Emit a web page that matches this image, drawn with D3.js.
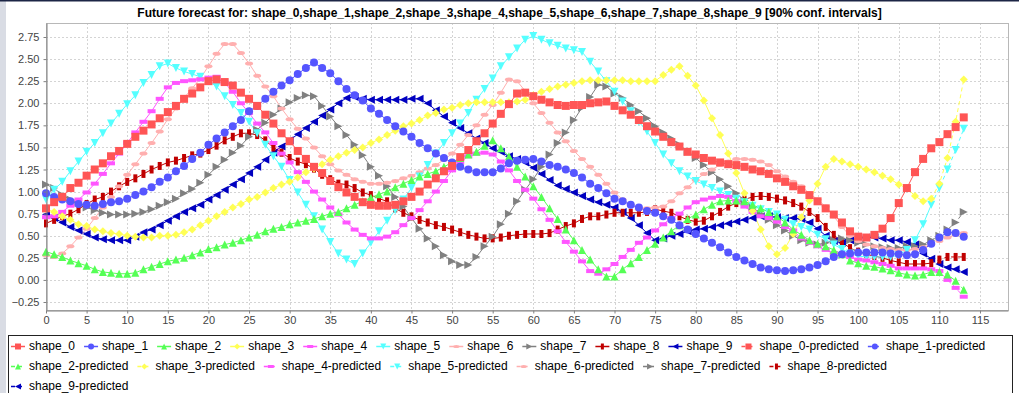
<!DOCTYPE html>
<html>
<head>
<meta charset="utf-8">
<script src="https://cdn.jsdelivr.net/npm/d3@7"></script>
<style>
  body { margin: 0; background: #fff; }
  svg { display: block; font-family: "Liberation Sans", Arial, sans-serif; }
</style>
</head>
<body>
<script>
// values per time step (x = 0 .. 113)
const shape_0 = [0.81,0.88,0.94,1.04,1.10,1.18,1.25,1.32,1.40,1.46,1.54,1.62,1.69,1.76,1.83,1.90,1.97,2.05,2.11,2.18,
  2.25,2.27,2.24,2.20,2.12,2.05,1.97,1.87,1.77,1.66,1.57,1.46,1.37,1.28,1.21,1.12,1.05,0.99,0.94,0.88,
  0.85,0.84,0.84,0.85,0.89,0.94,1.00,1.08,1.15,1.23,1.29,1.39,1.47,1.57,1.66,1.77,1.88,1.99,2.11,2.12,
  2.08,2.04,2.01,1.98,1.97,1.98,1.98,2.00,2.01,2.02,1.97,1.92,1.87,1.81,1.74,1.68,1.62,1.56,1.51,1.45,
  1.42,1.38,1.35,1.33,1.31,1.30,1.28,1.25,1.23,1.20,1.15,1.11,1.06,1.02,0.96,0.89,0.81,0.74,0.65,0.55,
  0.49,0.48,0.51,0.58,0.70,0.87,1.04,1.22,1.37,1.49,1.56,1.65,1.73,1.84];
const shape_1 = [0.98,0.94,0.91,0.89,0.86,0.85,0.84,0.86,0.88,0.89,0.92,0.96,1.00,1.05,1.11,1.16,1.23,1.29,1.37,1.44,
  1.53,1.60,1.67,1.74,1.81,1.91,1.97,2.05,2.13,2.20,2.26,2.33,2.40,2.46,2.40,2.34,2.25,2.16,2.09,2.03,
  1.94,1.88,1.81,1.74,1.68,1.62,1.55,1.49,1.43,1.38,1.33,1.28,1.25,1.22,1.22,1.22,1.26,1.32,1.35,1.36,
  1.37,1.34,1.30,1.28,1.25,1.21,1.16,1.09,1.04,0.98,0.92,0.89,0.85,0.82,0.78,0.76,0.72,0.68,0.62,0.57,
  0.52,0.47,0.42,0.37,0.31,0.26,0.22,0.18,0.14,0.12,0.11,0.10,0.11,0.12,0.14,0.17,0.21,0.26,0.29,0.30,
  0.31,0.31,0.31,0.31,0.30,0.29,0.28,0.29,0.34,0.41,0.48,0.54,0.53,0.49];
const shape_2 = [0.32,0.29,0.26,0.22,0.19,0.16,0.12,0.09,0.08,0.07,0.07,0.08,0.12,0.15,0.18,0.21,0.23,0.25,0.28,0.31,
  0.35,0.37,0.40,0.42,0.45,0.48,0.51,0.55,0.58,0.60,0.63,0.65,0.67,0.69,0.72,0.75,0.77,0.81,0.85,0.89,
  0.93,0.97,1.00,1.05,1.09,1.13,1.17,1.20,1.23,1.28,1.33,1.38,1.42,1.45,1.52,1.58,1.49,1.40,1.28,1.17,
  1.06,0.94,0.81,0.69,0.57,0.45,0.34,0.23,0.12,0.04,0.04,0.12,0.19,0.26,0.34,0.41,0.48,0.55,0.62,0.69,
  0.74,0.80,0.85,0.89,0.90,0.90,0.89,0.85,0.81,0.77,0.72,0.65,0.57,0.51,0.45,0.41,0.38,0.34,0.29,0.22,
  0.19,0.16,0.15,0.13,0.11,0.08,0.06,0.05,0.06,0.09,0.09,0.06,-0.01,-0.11];
const shape_3 = [0.80,0.77,0.72,0.68,0.63,0.61,0.57,0.55,0.53,0.52,0.50,0.49,0.48,0.48,0.50,0.50,0.51,0.54,0.57,0.62,
  0.67,0.72,0.77,0.82,0.86,0.91,0.94,0.99,1.04,1.08,1.11,1.16,1.22,1.26,1.31,1.36,1.40,1.44,1.47,1.50,
  1.55,1.59,1.64,1.69,1.74,1.77,1.81,1.86,1.89,1.93,1.95,1.98,2.00,2.01,2.01,2.01,2.01,2.01,2.02,2.04,
  2.09,2.13,2.16,2.19,2.21,2.23,2.25,2.26,2.26,2.26,2.26,2.26,2.25,2.25,2.25,2.25,2.32,2.38,2.42,2.31,
  2.20,2.03,1.83,1.64,1.43,1.21,0.98,0.78,0.57,0.38,0.29,0.36,0.52,0.71,0.90,1.09,1.28,1.37,1.34,1.31,
  1.28,1.25,1.22,1.18,1.14,1.08,1.04,0.95,0.89,0.92,1.09,1.38,1.79,2.27];
const shape_4 = [0.71,0.72,0.77,0.84,0.91,0.99,1.09,1.20,1.32,1.43,1.55,1.67,1.79,1.91,2.05,2.18,2.23,2.25,2.26,2.27,
  2.29,2.30,2.23,2.13,2.00,1.89,1.77,1.67,1.55,1.43,1.33,1.22,1.11,1.00,0.91,0.82,0.74,0.65,0.57,0.51,
  0.47,0.47,0.49,0.54,0.62,0.70,0.79,0.89,1.00,1.12,1.24,1.33,1.40,1.43,1.44,1.42,1.34,1.24,1.12,1.02,
  0.92,0.80,0.68,0.55,0.43,0.32,0.21,0.10,0.07,0.12,0.18,0.26,0.34,0.42,0.48,0.56,0.63,0.70,0.75,0.82,
  0.88,0.91,0.93,0.95,0.94,0.89,0.83,0.77,0.72,0.70,0.66,0.60,0.56,0.47,0.42,0.38,0.34,0.30,0.29,0.26,
  0.23,0.22,0.20,0.18,0.16,0.13,0.13,0.13,0.13,0.12,0.10,0.00,-0.09,-0.19];
const shape_5 = [0.91,1.02,1.11,1.23,1.34,1.45,1.55,1.66,1.77,1.88,1.99,2.09,2.23,2.32,2.42,2.45,2.40,2.36,2.33,2.30,
  2.25,2.19,2.08,1.98,1.89,1.79,1.66,1.53,1.40,1.28,1.13,0.99,0.85,0.72,0.57,0.43,0.30,0.23,0.18,0.30,
  0.42,0.55,0.67,0.79,0.91,1.04,1.17,1.30,1.43,1.55,1.66,1.77,1.89,2.04,2.16,2.28,2.42,2.52,2.62,2.72,
  2.76,2.72,2.68,2.65,2.62,2.60,2.58,2.47,2.36,2.25,2.13,2.02,1.91,1.79,1.68,1.55,1.42,1.32,1.23,1.17,
  1.12,1.08,1.04,1.00,0.96,0.92,0.88,0.84,0.80,0.77,0.74,0.68,0.63,0.60,0.57,0.51,0.46,0.40,0.35,0.30,
  0.27,0.26,0.26,0.26,0.26,0.28,0.34,0.45,0.63,0.85,1.04,1.25,1.47,1.71];
const shape_6 = [0.28,0.26,0.30,0.38,0.48,0.58,0.70,0.82,0.94,1.06,1.19,1.31,1.43,1.55,1.68,1.82,1.94,2.06,2.17,2.28,
  2.42,2.56,2.67,2.67,2.57,2.45,2.31,2.19,2.08,1.94,1.82,1.71,1.60,1.50,1.40,1.31,1.24,1.19,1.14,1.11,
  1.09,1.09,1.10,1.12,1.15,1.18,1.22,1.26,1.30,1.36,1.43,1.53,1.64,1.75,1.87,1.98,2.12,2.27,2.25,2.14,
  2.00,1.89,1.78,1.67,1.57,1.46,1.37,1.28,1.19,1.09,0.99,0.91,0.85,0.80,0.81,0.82,0.83,0.89,0.98,1.05,
  1.13,1.20,1.25,1.30,1.34,1.37,1.37,1.36,1.34,1.30,1.23,1.17,1.11,1.06,0.98,0.91,0.83,0.72,0.60,0.50,
  0.44,0.40,0.38,0.36,0.35,0.34,0.34,0.35,0.37,0.40,0.44,0.48,0.51,0.53];
const shape_7 = [1.08,1.04,0.96,0.91,0.87,0.82,0.79,0.76,0.74,0.74,0.74,0.75,0.77,0.80,0.84,0.88,0.92,0.98,1.03,1.10,
  1.19,1.28,1.36,1.44,1.52,1.62,1.70,1.78,1.87,1.94,2.01,2.06,2.09,2.08,1.97,1.85,1.74,1.64,1.53,1.41,
  1.28,1.18,1.06,0.94,0.83,0.70,0.58,0.47,0.38,0.28,0.21,0.17,0.17,0.26,0.38,0.49,0.63,0.75,0.89,1.02,
  1.14,1.28,1.42,1.55,1.67,1.81,1.95,2.07,2.21,2.19,2.11,2.06,1.98,1.91,1.83,1.74,1.67,1.60,1.53,1.45,
  1.38,1.30,1.22,1.14,1.06,0.98,0.90,0.82,0.75,0.68,0.62,0.56,0.50,0.45,0.42,0.40,0.42,0.45,0.47,0.45,
  0.42,0.40,0.38,0.37,0.36,0.36,0.38,0.38,0.40,0.45,0.50,0.57,0.65,0.77];
const shape_8 = [0.64,0.68,0.72,0.75,0.80,0.86,0.91,0.94,1.00,1.06,1.11,1.15,1.20,1.25,1.29,1.33,1.35,1.38,1.41,1.43,
  1.47,1.52,1.58,1.62,1.66,1.66,1.64,1.58,1.50,1.44,1.38,1.34,1.31,1.26,1.19,1.14,1.09,1.08,1.04,0.99,
  0.96,0.92,0.89,0.81,0.76,0.72,0.68,0.65,0.62,0.60,0.57,0.54,0.51,0.49,0.47,0.47,0.48,0.50,0.51,0.52,
  0.52,0.52,0.53,0.57,0.61,0.64,0.69,0.72,0.72,0.74,0.76,0.76,0.76,0.76,0.77,0.80,0.78,0.76,0.72,0.68,
  0.66,0.67,0.72,0.77,0.83,0.87,0.91,0.94,0.95,0.94,0.92,0.90,0.87,0.83,0.77,0.70,0.60,0.51,0.43,0.36,
  0.32,0.29,0.27,0.25,0.22,0.20,0.18,0.18,0.18,0.19,0.23,0.26,0.26,0.26];
const shape_9 = [0.74,0.70,0.65,0.60,0.56,0.52,0.48,0.46,0.45,0.45,0.45,0.49,0.54,0.57,0.62,0.67,0.72,0.77,0.81,0.85,
  0.91,0.96,1.02,1.08,1.14,1.21,1.28,1.36,1.44,1.51,1.58,1.65,1.72,1.79,1.86,1.93,2.00,2.06,2.07,2.05,
  2.04,2.04,2.04,2.04,2.04,2.05,2.05,2.00,1.92,1.85,1.78,1.72,1.66,1.60,1.55,1.49,1.45,1.40,1.37,1.33,
  1.27,1.20,1.13,1.07,1.03,0.99,0.95,0.91,0.88,0.85,0.82,0.77,0.70,0.62,0.53,0.45,0.47,0.50,0.52,0.55,
  0.57,0.58,0.60,0.62,0.64,0.66,0.68,0.70,0.72,0.72,0.71,0.70,0.70,0.69,0.65,0.58,0.50,0.44,0.42,0.45,
  0.47,0.48,0.48,0.47,0.45,0.45,0.43,0.40,0.30,0.24,0.18,0.14,0.12,0.09];

const seriesNames = ["shape_0", "shape_1", "shape_2", "shape_3", "shape_4",
                     "shape_5", "shape_6", "shape_7", "shape_8", "shape_9"];
const seriesValues = [shape_0, shape_1, shape_2, shape_3, shape_4,
                      shape_5, shape_6, shape_7, shape_8, shape_9];
// last observed step; forecast continues from here
const forecastStart = 109;

const xTicks = [0, 5, 10, 15, 20, 25, 30, 35, 40, 45, 50, 55, 60, 65, 70, 75, 80, 85, 90, 95, 100, 105, 110, 115];
const yTicks = [-0.25, 0.00, 0.25, 0.50, 0.75, 1.00, 1.25, 1.50, 1.75, 2.00, 2.25, 2.50, 2.75];

const colors = ["#ff5555", "#5555ff", "#55ff55", "#ffff55", "#ff55ff",
                "#55ffff", "#ffafaf", "#808080", "#c00000", "#0000c0"];

const W = 1019, H = 393;
const plot = { left: 46, right: 1008, top: 23, bottom: 310 };

// marker shapes, same cycle as the java chart library
const shapePath = (k, h) => {
  const q = h / 2;
  switch (k) {
    case 0: return `M${-h},${-h}H${h}V${h}H${-h}Z`;
    case 1: return `M${-h},0A${h},${h} 0 1,0 ${h},0A${h},${h} 0 1,0 ${-h},0Z`;
    case 2: return `M0,${-h}L${h},${h}L${-h},${h}Z`;
    case 3: return `M0,${-h}L${h},0L0,${h}L${-h},0Z`;
    case 4: return `M${-h},${-q}H${h}V${q}H${-h}Z`;
    case 5: return `M${-h},${-h}L${h},${-h}L0,${h}Z`;
    case 6: return `M${-h},0A${h},${q} 0 1,0 ${h},0A${h},${q} 0 1,0 ${-h},0Z`;
    case 7: return `M${-h},${-h}L${h},0L${-h},${h}Z`;
    case 8: return `M${-q},${-h}H${q}V${h}H${-q}Z`;
    default: return `M${h},${-h}L${-h},0L${h},${h}Z`;
  }
};

const svg = d3.select("body").append("svg")
  .attr("width", W)
  .attr("height", H);

svg.append("rect").attr("width", W).attr("height", H).attr("fill", "#fff");
svg.append("rect").attr("x", 0).attr("y", 0).attr("width", 6).attr("height", H).attr("fill", "#d9dce4");
svg.append("rect").attr("x", 0).attr("y", 0).attr("width", W).attr("height", 1.5).attr("fill", "#1c2545");

// title
svg.append("text")
  .attr("x", W / 2)
  .attr("y", 17)
  .attr("text-anchor", "middle")
  .style("font-size", "12px")
  .style("font-weight", "bold")
  .attr("fill", "#000")
  .text("Future forecast for: " + seriesNames.join(",") + " [90% conf. intervals]");

const x = d3.scaleLinear().domain([0, 118.45]).range([plot.left, plot.right]);
const y = d3.scaleLinear().domain([-0.3406, 2.9085]).range([plot.bottom, plot.top]);

// grid
const grid = svg.append("g").attr("stroke", "#d4d4d4").attr("stroke-dasharray", "2,2").attr("stroke-width", 1);
grid.selectAll(".vg").data(xTicks).enter().append("line")
  .attr("x1", d => Math.round(x(d)) + 0.5).attr("x2", d => Math.round(x(d)) + 0.5)
  .attr("y1", plot.top).attr("y2", plot.bottom);
grid.selectAll(".hg").data(yTicks).enter().append("line")
  .attr("y1", d => Math.round(y(d)) + 0.5).attr("y2", d => Math.round(y(d)) + 0.5)
  .attr("x1", plot.left).attr("x2", plot.right);

// plot outline
svg.append("rect")
  .attr("x", plot.left + 0.5).attr("y", plot.top + 0.5)
  .attr("width", plot.right - plot.left).attr("height", plot.bottom - plot.top)
  .attr("fill", "none").attr("stroke", "#b8b8b8");

// lines: forecasts first, then observed, highest series first so shape_0 ends on top
const lineGen = d3.line().x(d => x(d.i)).y(d => y(d.v));
const lines = svg.append("g").attr("fill", "none").attr("stroke-width", 1);
for (let s = seriesValues.length - 1; s >= 0; s--) {
  const pts = seriesValues[s].slice(forecastStart).map((v, j) => ({ i: forecastStart + j, v }));
  lines.append("path").attr("d", lineGen(pts)).attr("stroke", colors[s]).attr("stroke-dasharray", "4,3");
}
for (let s = seriesValues.length - 1; s >= 0; s--) {
  const pts = seriesValues[s].slice(0, forecastStart + 1).map((v, i) => ({ i, v }));
  lines.append("path").attr("d", lineGen(pts)).attr("stroke", colors[s]);
}

// markers
const marks = svg.append("g");
for (let s = seriesValues.length - 1; s >= 0; s--) {
  marks.selectAll(".m" + s)
    .data(seriesValues[s])
    .enter()
    .append("path")
    .attr("d", shapePath(s, 4))
    .attr("transform", (d, i) => `translate(${x(i)},${y(d)})`)
    .attr("fill", colors[s]);
}

// axes
const xAxis = d3.axisBottom(x).tickValues(xTicks).tickSize(3).tickSizeOuter(0).tickPadding(3);
const yAxis = d3.axisLeft(y).tickValues(yTicks).tickSize(3).tickSizeOuter(0).tickPadding(4)
  .tickFormat(d3.format(".2f"));

const gx = svg.append("g").attr("transform", `translate(0,${plot.bottom + 0.5})`).call(xAxis);
const gy = svg.append("g").attr("transform", `translate(${plot.left + 0.5},0)`).call(yAxis);
[gx, gy].forEach(g => {
  g.select(".domain").attr("stroke", "#808080");
  g.selectAll(".tick line").attr("stroke", "#808080");
  g.selectAll(".tick text").attr("fill", "#444").style("font-size", "11px")
    .style("font-family", "'Liberation Sans', Arial, sans-serif");
});

// legend
svg.append("rect")
  .attr("x", 8.5).attr("y", 335.5)
  .attr("width", 1004).attr("height", 70)
  .attr("fill", "#fff").attr("stroke", "#222");

const legendItems = seriesNames.map((n, i) => ({ name: n, s: i, pred: false }))
  .concat(seriesNames.map((n, i) => ({ name: n + "-predicted", s: i, pred: true })));

let lx = 11, row = 0;
const rowY = [346, 366, 386];
legendItems.forEach(item => {
  const g = svg.append("g");
  const t = g.append("text")
    .attr("y", 4)
    .style("font-size", "12px")
    .attr("fill", "#000")
    .text(item.name);
  const tw = t.node().getComputedTextLength();
  if (lx + 18 + tw > 1008) { lx = 11; row += 1; }
  g.attr("transform", `translate(${lx},${rowY[row]})`);
  t.attr("x", 18);
  g.insert("line", "text")
    .attr("x1", 0).attr("x2", 14).attr("y1", 0.5).attr("y2", 0.5)
    .attr("stroke", colors[item.s]).attr("stroke-width", 1.5)
    .attr("stroke-dasharray", item.pred ? "4,3" : null);
  g.insert("path", "text")
    .attr("d", shapePath(item.s, 3))
    .attr("transform", "translate(7,0.5)")
    .attr("fill", colors[item.s]);
  lx += 18 + tw + 9;
});
</script>
</body>
</html>
